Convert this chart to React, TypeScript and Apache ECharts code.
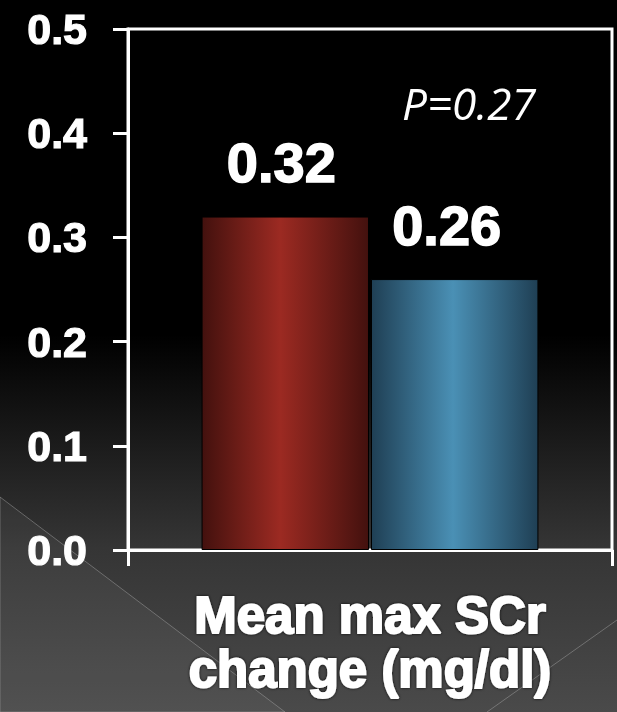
import React, { useEffect, useRef } from "react";
import * as echarts from "echarts";

// ---- data ----
const categories = ["Mean max SCr\nchange (mg/dl)"];
const seriesNames = ["Group A", "Group B"];
const valuesA = [0.32];
const valuesB = [0.26];
const yMin = 0;
const yMax = 0.5;
const yInterval = 0.1;
const pValueText = "P=0.27";

const FONT = "'Liberation Sans', Arial, Helvetica, sans-serif";

export default function App() {
  const ref = useRef<HTMLDivElement>(null);

  useEffect(() => {
    if (!ref.current) return;
    const chart = echarts.init(ref.current, null, { renderer: "svg" });

    const redGrad = new echarts.graphic.LinearGradient(0, 0, 1, 0, [
      { offset: 0, color: "#43110e" },
      { offset: 0.47, color: "#9c2a22" },
      { offset: 1, color: "#43110e" },
    ]);
    const blueGrad = new echarts.graphic.LinearGradient(0, 0, 1, 0, [
      { offset: 0, color: "#1f3f54" },
      { offset: 0.49, color: "#4a90b5" },
      { offset: 1, color: "#1f3f54" },
    ]);

    const labelStyle = (dx: number) => ({
      show: true,
      position: "top" as const,
      distance: 26,
      offset: [dx, 0],
      color: "#ffffff",
      fontSize: 56,
      fontWeight: "bold" as const,
      fontFamily: FONT,
      textBorderColor: "#ffffff",
      textBorderWidth: 1.5,
      formatter: (p: any) => Number(p.value).toFixed(2),
    });

    chart.setOption({
      animation: false,
      backgroundColor: "transparent",
      graphic: [
        {
          type: "rect",
          z: -100,
          silent: true,
          shape: { x: 0, y: 0, width: 617, height: 712 },
          style: {
            fill: new echarts.graphic.LinearGradient(0, 0, 0, 1, [
              { offset: 0, color: "#000000" },
              { offset: 0.47, color: "#000000" },
              { offset: 0.77, color: "#353535" },
              { offset: 1, color: "#4a4a4a" },
            ]),
          },
        },
        {
          type: "polygon",
          z: -99,
          silent: true,
          shape: { points: [[0, 497], [285, 712], [0, 712]] },
          style: { fill: "rgba(255,255,255,0.045)", stroke: "rgba(170,170,170,0.45)", lineWidth: 1 },
        },
        {
          type: "line",
          z: -99,
          silent: true,
          shape: { x1: 617, y1: 620, x2: 487, y2: 712 },
          style: { stroke: "rgba(170,170,170,0.45)", lineWidth: 1 },
        },
        {
          type: "text",
          z: 100,
          x: 402,
          y: 103,
          style: {
            text: pValueText,
            fill: "#ffffff",
            font: "italic 44px 'Open Sans', sans-serif",
            textVerticalAlign: "middle",
            textAlign: "left",
          },
        },
      ],
      grid: {
        left: 128,
        right: 5,
        top: 29,
        bottom: 162,
        show: true,
        borderColor: "#ffffff",
        borderWidth: 3,
        backgroundColor: "transparent",
      },
      xAxis: {
        type: "category",
        data: categories,
        boundaryGap: true,
        axisLine: { show: true, lineStyle: { color: "#ffffff", width: 3 } },
        axisTick: { show: true, length: 16, lineStyle: { color: "#ffffff", width: 3 } },
        axisLabel: {
          color: "#ffffff",
          fontSize: 51,
          lineHeight: 54,
          fontWeight: "bold",
          fontFamily: FONT,
          margin: 38,
          textBorderColor: "#ffffff",
          textBorderWidth: 2,
          textShadowColor: "rgba(0,0,0,0.85)",
          textShadowBlur: 3,
        },
        splitLine: { show: false },
      },
      yAxis: {
        type: "value",
        min: yMin,
        max: yMax,
        interval: yInterval,
        axisLine: { show: true, lineStyle: { color: "#ffffff", width: 3 } },
        axisTick: { show: true, length: 15, lineStyle: { color: "#ffffff", width: 3 } },
        axisLabel: {
          color: "#ffffff",
          fontSize: 43,
          fontWeight: "bold",
          fontFamily: FONT,
          margin: 41,
          textBorderColor: "#ffffff",
          textBorderWidth: 1.2,
          formatter: (v: number) => v.toFixed(1),
        },
        splitLine: { show: false },
      },
      series: [
        {
          name: seriesNames[0],
          type: "bar",
          data: valuesA,
          barCategoryGap: "30.4%",
          barGap: "1.2%",
          itemStyle: { color: redGrad, borderColor: "#000000", borderWidth: 1 },
          label: labelStyle(-4),
        },
        {
          name: seriesNames[1],
          type: "bar",
          data: valuesB,
          barCategoryGap: "30.4%",
          barGap: "1.2%",
          itemStyle: { color: blueGrad, borderColor: "#000000", borderWidth: 1 },
          label: labelStyle(-8),
        },
      ],
    });

    return () => chart.dispose();
  }, []);

  return (
    <div
      ref={ref}
      style={{ position: "fixed", left: 0, top: 0, width: 617, height: 712 }}
    />
  );
}
